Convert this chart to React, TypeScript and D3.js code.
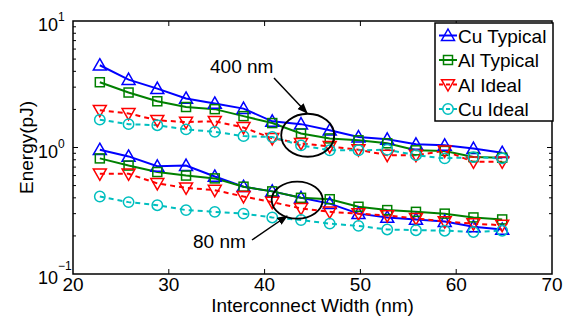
import { useEffect, useRef } from 'react';
import * as d3 from 'd3';

// interconnect width (nm)
const widths = [22.8, 25.8, 28.8, 31.8, 34.8, 37.8, 40.8, 43.8, 46.8, 49.8, 52.8, 55.8, 58.8, 61.8, 64.8];

// 400 nm group
const cuTyp400 = [4.47, 3.44, 2.92, 2.44, 2.23, 2.03, 1.61, 1.53, 1.37, 1.21, 1.16, 1.06, 1.04, 0.98, 0.91];
const alTyp400 = [3.28, 2.72, 2.32, 2.09, 2.01, 1.77, 1.56, 1.29, 1.18, 1.14, 1.08, 0.95, 0.94, 0.84, 0.83];
const alIdeal400 = [1.97, 1.86, 1.64, 1.59, 1.61, 1.44, 1.18, 1.08, 1.02, 0.96, 0.87, 0.87, 0.94, 0.77, 0.77];
const cuIdeal400 = [1.66, 1.53, 1.5, 1.39, 1.33, 1.23, 1.21, 1.04, 0.95, 0.95, 0.96, 0.87, 0.82, 0.84, 0.82];

// 80 nm group
const cuTyp80 = [0.96, 0.85, 0.71, 0.72, 0.59, 0.49, 0.45, 0.4, 0.36, 0.3, 0.28, 0.27, 0.26, 0.236, 0.225];
const alTyp80 = [0.82, 0.72, 0.64, 0.6, 0.57, 0.49, 0.45, 0.4, 0.39, 0.34, 0.32, 0.31, 0.3, 0.28, 0.27];
const alIdeal80 = [0.62, 0.62, 0.52, 0.48, 0.46, 0.41, 0.37, 0.33, 0.31, 0.3, 0.29, 0.275, 0.26, 0.25, 0.243];
const cuIdeal80 = [0.41, 0.37, 0.35, 0.32, 0.31, 0.3, 0.28, 0.267, 0.25, 0.24, 0.225, 0.222, 0.22, 0.215, 0.22];

const xTicks = [20, 30, 40, 50, 60, 70];
const yDecades = [-1, 0, 1];

type Marker = 'up' | 'square' | 'down' | 'circle';
const seriesDefs = [
  { name: 'Cu Typical', color: '#0000ff', marker: 'up' as Marker, dashed: false, data: [cuTyp400, cuTyp80] },
  { name: 'Al Typical', color: '#008000', marker: 'square' as Marker, dashed: false, data: [alTyp400, alTyp80] },
  { name: 'Al Ideal', color: '#ff0000', marker: 'down' as Marker, dashed: true, data: [alIdeal400, alIdeal80] },
  { name: 'Cu Ideal', color: '#00bfbf', marker: 'circle' as Marker, dashed: true, data: [cuIdeal400, cuIdeal80] },
];

const FONT = '"Liberation Sans", Arial, Helvetica, sans-serif';

function drawMarker(g: any, kind: Marker, x: number, y: number, color: string) {
  const s = 6.5;
  if (kind === 'up') {
    g.append('path')
      .attr('d', `M${x},${y - s}L${x + s},${y + s * 0.75}L${x - s},${y + s * 0.75}Z`)
      .attr('fill', 'none').attr('stroke', color).attr('stroke-width', 1.5);
  } else if (kind === 'down') {
    g.append('path')
      .attr('d', `M${x},${y + s}L${x + s},${y - s * 0.75}L${x - s},${y - s * 0.75}Z`)
      .attr('fill', 'none').attr('stroke', color).attr('stroke-width', 1.5);
  } else if (kind === 'square') {
    g.append('rect')
      .attr('x', x - 4.5).attr('y', y - 4.5).attr('width', 9).attr('height', 9)
      .attr('fill', 'none').attr('stroke', color).attr('stroke-width', 1.5);
  } else {
    g.append('circle')
      .attr('cx', x).attr('cy', y).attr('r', 5.2)
      .attr('fill', 'none').attr('stroke', color).attr('stroke-width', 1.5);
  }
}

export default function App() {
  const svgRef = useRef<SVGSVGElement>(null);

  useEffect(() => {
    if (!svgRef.current) return;
    const width = 570;
    const height = 322;
    const margin = { top: 21, right: 18, bottom: 48, left: 73 };

    const svg = d3.select(svgRef.current).attr('width', width).attr('height', height);
    svg.selectAll('*').remove();
    svg.append('rect').attr('width', width).attr('height', height).attr('fill', '#fff');

    const x = d3.scaleLinear().domain([20, 70]).range([margin.left, width - margin.right]);
    const y = d3.scaleLog().domain([0.1, 10]).range([height - margin.bottom, margin.top]);
    const [x0, x1] = x.range();
    const [yb, yt] = y.range();

    // ticks (inside, on all four sides)
    const tickG = svg.append('g').attr('stroke', '#000').attr('stroke-width', 1);
    xTicks.slice(1, -1).forEach(t => {
      tickG.append('line').attr('x1', x(t)).attr('x2', x(t)).attr('y1', yb).attr('y2', yb - 5);
      tickG.append('line').attr('x1', x(t)).attr('x2', x(t)).attr('y1', yt).attr('y2', yt + 5);
    });
    yDecades.slice(0, -1).forEach(d => {
      for (let m = 1; m <= 9; m++) {
        const v = m * Math.pow(10, d);
        if (v <= 0.1 + 1e-9) continue;
        const len = m === 1 ? 5 : 3;
        tickG.append('line').attr('x1', x0).attr('x2', x0 + len).attr('y1', y(v)).attr('y2', y(v));
        tickG.append('line').attr('x1', x1).attr('x2', x1 - len).attr('y1', y(v)).attr('y2', y(v));
      }
    });

    // series lines and markers
    const line = d3.line<number>().x((_, i) => x(widths[i])).y(d => y(d));
    seriesDefs.forEach(s => {
      s.data.forEach(arr => {
        svg.append('path')
          .datum(arr)
          .attr('fill', 'none')
          .attr('stroke', s.color)
          .attr('stroke-width', 2)
          .attr('stroke-dasharray', s.dashed ? '5,4' : null)
          .attr('d', line);
      });
    });
    seriesDefs.forEach(s => {
      const g = svg.append('g');
      s.data.forEach(arr => {
        arr.forEach((v, i) => drawMarker(g, s.marker, x(widths[i]), y(v), s.color));
      });
    });

    // annotations
    const ann = svg.append('g');
    ann.append('defs').append('marker')
      .attr('id', 'arrowhead').attr('viewBox', '0 0 10 10').attr('refX', 9).attr('refY', 5)
      .attr('markerWidth', 7).attr('markerHeight', 7).attr('orient', 'auto')
      .append('path').attr('d', 'M0,1L10,5L0,9Z').attr('fill', '#000');
    ann.append('ellipse').attr('cx', x(44.5)).attr('cy', y(1.25)).attr('rx', 26.5).attr('ry', 21.5)
      .attr('fill', 'none').attr('stroke', '#000').attr('stroke-width', 1.8);
    ann.append('ellipse').attr('cx', x(43.4)).attr('cy', y(0.384)).attr('rx', 25.5).attr('ry', 18.5)
      .attr('fill', 'none').attr('stroke', '#000').attr('stroke-width', 1.8);
    ann.append('line').attr('x1', 274).attr('y1', 78).attr('x2', 307).attr('y2', 113)
      .attr('stroke', '#000').attr('stroke-width', 1.5).attr('marker-end', 'url(#arrowhead)');
    ann.append('line').attr('x1', 252).attr('y1', 240).attr('x2', 287).attr('y2', 216)
      .attr('stroke', '#000').attr('stroke-width', 1.5).attr('marker-end', 'url(#arrowhead)');
    ann.append('text').attr('x', 210).attr('y', 73).text('400 nm')
      .attr('font-family', FONT).attr('font-size', 19);
    ann.append('text').attr('x', 193).attr('y', 248).text('80 nm')
      .attr('font-family', FONT).attr('font-size', 19);

    // frame
    svg.append('rect').attr('x', x0).attr('y', yt).attr('width', x1 - x0).attr('height', yb - yt)
      .attr('fill', 'none').attr('stroke', '#000').attr('stroke-width', 1.5);

    // tick labels
    xTicks.forEach(t => {
      svg.append('text').attr('x', x(t)).attr('y', yb + 16.5).attr('text-anchor', 'middle')
        .attr('font-family', FONT).attr('font-size', 19).text(t);
    });
    yDecades.forEach(d => {
      const yy = y(Math.pow(10, d));
      svg.append('text').attr('x', 38).attr('y', yy + 10)
        .attr('font-family', FONT).attr('font-size', 18).text('10');
      svg.append('text').attr('x', 58).attr('y', d < 0 ? yy - 4 : yy)
        .attr('font-family', FONT).attr('font-size', 12)
        .text(d < 0 ? '\u2212' + Math.abs(d) : String(d));
    });

    svg.append('text').attr('x', (x0 + x1) / 2).attr('y', yb + 38).attr('text-anchor', 'middle')
      .attr('font-family', FONT).attr('font-size', 19).text('Interconnect Width (nm)');
    svg.append('text').attr('transform', `translate(33,${(yt + yb) / 2}) rotate(-90)`)
      .attr('text-anchor', 'middle').attr('font-family', FONT).attr('font-size', 19).text('Energy(pJ)');

    // legend
    const lg = svg.append('g');
    const lx = 435, ly = 23, lw = 118, lh = 98;
    lg.append('rect').attr('x', lx).attr('y', ly).attr('width', lw).attr('height', lh)
      .attr('fill', '#fff').attr('stroke', '#000').attr('stroke-width', 1.5);
    seriesDefs.forEach((s, i) => {
      const cy = ly + 12.5 + i * 24.5;
      lg.append('line').attr('x1', lx + 4).attr('x2', lx + 22).attr('y1', cy).attr('y2', cy)
        .attr('stroke', s.color).attr('stroke-width', 2)
        .attr('stroke-dasharray', s.dashed ? '4,3' : null);
      drawMarker(lg, s.marker, lx + 13, cy, s.color);
      lg.append('text').attr('x', lx + 23).attr('y', cy + 7).attr('font-family', FONT)
        .attr('font-size', 19).text(s.name);
    });
  }, []);

  return (
    <div style={{ position: 'absolute', left: 0, top: 0 }}>
      <svg ref={svgRef} />
    </div>
  );
}
